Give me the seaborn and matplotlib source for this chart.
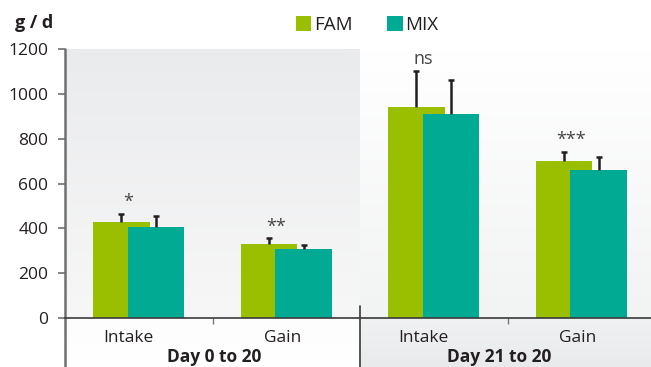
import numpy as np
import pandas as pd
import matplotlib
matplotlib.use("Agg")
import matplotlib.pyplot as plt
from matplotlib.patches import Patch
from matplotlib.colors import LinearSegmentedColormap
import seaborn as sns

# ---- data ----
categories = ["Intake", "Gain", "Intake", "Gain"]
periods = ["Day 0 to 20", "Day 21 to 20"]
fam_mean = [427, 329, 940, 699]
fam_sd = [37, 26, 163, 43]
mix_mean = [407, 306, 910, 659]
mix_sd = [49, 21, 153, 58]
significance = ["*", "**", "ns", "***"]
series = ["FAM", "MIX"]

FAM_COLOR = "#99bf00"
MIX_COLOR = "#00aa93"
TEXT = "#231f20"

sns.set_theme(style="white")
plt.rcParams["font.family"] = ["Open Sans", "DejaVu Sans"]

W, H = 651, 367
fig = plt.figure(figsize=(W / 100, H / 100), dpi=100)
x0_px, y0_px, ytop_px = 65, 318, 49
ax = fig.add_axes([x0_px / W, (H - y0_px) / H, (W - x0_px) / W, (y0_px - ytop_px) / H])

cat_px = 147.5
xmax = -0.5 + (W - x0_px) / cat_px
units_per_px = 1200 / (y0_px - ytop_px)
ybot = -(H - y0_px) * units_per_px - 5

# panel backgrounds (vertical gradients)
def gradient(top, bottom, extent):
    cmap = LinearSegmentedColormap.from_list("g", [bottom, top])
    grad = np.linspace(0, 1, 256).reshape(-1, 1)
    ax.imshow(grad, cmap=cmap, aspect="auto", origin="lower", extent=extent,
              zorder=0, clip_on=False)

gradient("#eaebed", "#f7f7f7", (-0.5, 1.5, 0, 1200))
gradient("#ffffff", "#f2f3f3", (1.5, xmax, 0, 1200))
gradient("#fdfdfd", "#ffffff", (-0.5, 1.5, ybot, 0))
gradient("#f0f1f2", "#e9eaec", (1.5, xmax, ybot, 0))

# bars: FAM and MIX overlap within each group
pos = np.arange(len(categories))
offset, width = 0.117, 0.386
df = pd.DataFrame({
    "pos": np.concatenate([pos - offset, pos + offset]),
    "value": fam_mean + mix_mean,
    "sd": fam_sd + mix_sd,
    "series": np.repeat(series, len(categories)),
})
for name, color in zip(series, [FAM_COLOR, MIX_COLOR]):
    sub = df[df["series"] == name]
    sns.barplot(data=sub, x="pos", y="value", native_scale=True, width=width,
                color=color, saturation=1, errorbar=None, ax=ax, zorder=2,
                linewidth=0)
    # upper-only error bars
    _, caps, _ = ax.errorbar(sub["pos"], sub["value"],
                             yerr=[np.zeros(len(sub)), sub["sd"]],
                             fmt="none", ecolor=TEXT, elinewidth=1.8,
                             capsize=2, capthick=1.8, zorder=3)
    caps[0].set_visible(False)

# significance marks
for i, s in enumerate(significance):
    top = max(fam_mean[i] + fam_sd[i], mix_mean[i] + mix_sd[i])
    ax.text(i - 0.07, top + 12, s, ha="center", va="bottom", fontsize=13,
            color="#444444", zorder=4)

ax.set_xlim(-0.5, xmax)
ax.set_ylim(0, 1200)
ax.set_xlabel("")
ax.set_ylabel("")

# axes and separators
for sp in ["top", "right", "left"]:
    ax.spines[sp].set_visible(False)
ax.spines["bottom"].set_color("#3a3a3a")
ax.spines["bottom"].set_linewidth(1.2)
ax.spines["bottom"].set_zorder(5)
ax.plot([-0.5, -0.5], [ybot, 1200], color="#707070", lw=1.8, clip_on=False, zorder=5)
ax.plot([1.5, 1.5], [ybot, 55], color="#3a3a3a", lw=1.2, clip_on=False, zorder=5)

ax.set_yticks(range(0, 1201, 200))
ax.tick_params(axis="y", direction="out", length=5, width=1.2, color="#707070",
               pad=7, labelsize=12.5, labelcolor=TEXT, left=True)
ax.set_xticks([0.5, 2.5])
ax.set_xticklabels([])
ax.tick_params(axis="x", direction="out", length=4, width=1, color="#777777",
               bottom=True)

# category and period labels
y_cat = -24 * units_per_px
y_per = -44 * units_per_px
for i, c in enumerate(categories):
    ax.text(i + 0.1, y_cat, c, ha="right", va="baseline", fontsize=12.5,
            color=TEXT, clip_on=False)
for x, p in zip([0.51, 2.445], periods):
    ax.text(x, y_per, p, ha="center", va="baseline", fontsize=12.5,
            fontweight="bold", color=TEXT, clip_on=False)

fig.text(15 / W, 1 - 28 / H, "g / d", ha="left", va="baseline", fontsize=13,
         fontweight="bold", color=TEXT)

handles = [Patch(facecolor=FAM_COLOR, edgecolor="none", label="FAM"),
           Patch(facecolor=MIX_COLOR, edgecolor="none", label="MIX")]
fig.legend(handles=handles, loc="center", bbox_to_anchor=(367 / W, 1 - 25 / H),
           ncol=2, frameon=False, fontsize=13.5, handlelength=0.85,
           handleheight=0.85, handletextpad=0.15, columnspacing=1.8,
           labelcolor=TEXT)

fig.savefig("out.png", dpi=100)
